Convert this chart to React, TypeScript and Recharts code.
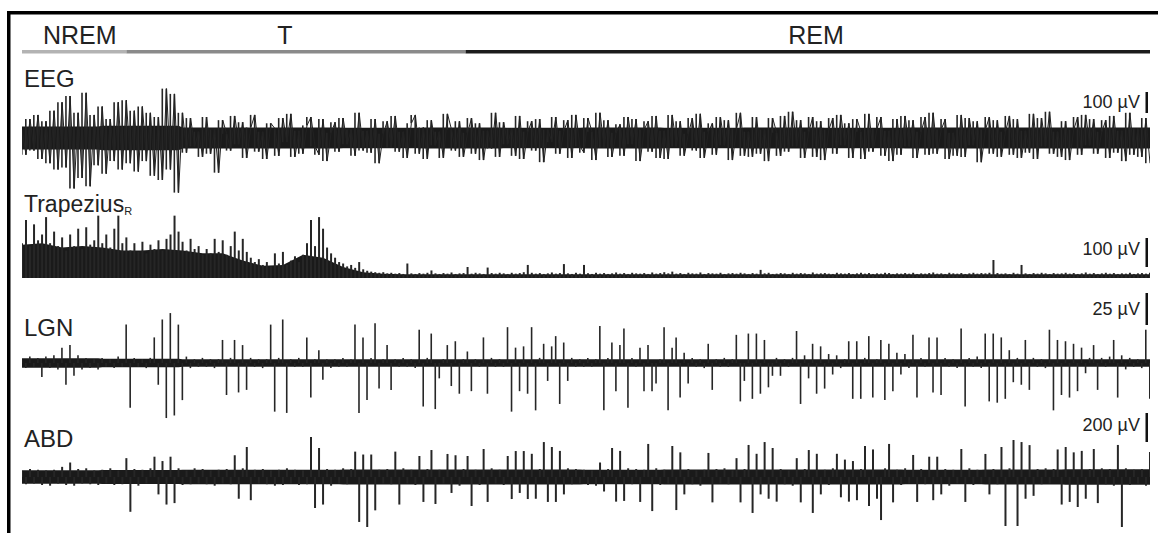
import { ComposedChart, Area, Bar, Line, BarChart, XAxis, YAxis } from 'recharts';

// sleep stage bar (lengths in samples, same units as the traces)
const stageNames = ['NREM', 'T', 'REM'];
const stageLengths = [26, 84.5, 170.5];
const stageColors = ['#b3b3b3', '#8a8a8a', '#1c1c1c'];

// EEG, µV
const eegUV = [
  40, -80, 90, -60, 110, -100, 80, -120, 130, -150, 170, -140, 200, -240, 120, -190, 215, -230, 110, -130,
  150, -170, 90, -110, 170, -150, 180, -120, 130, -160, 150, -110, 120, -180, 100, -200, 235, -150, 210, -260,
  120, -70, 95, -40, 30, -90, 100, -75, 40, -165, 85, 20, -60, 105, -30, 75, -95, 50, 110, -65,
  30, -100, 70, 45, -85, 95, -20, 115, -90, 35, -75, 60, 100, -40, -80, 90, -110, 25, 75, -65,
  95, -30, 40, -85, 120, -60, 35, -70, 90, -120, 20, 80, -45, 105, -65, 30, -95, 70, 110, -75,
  50, -100, 85, -35, 30, -95, 115, 40, -60, 80, -90, 25, 95, -75, 70, -105, 35, -50, 120, -90,
  75, -30, 45, -85, 105, -100, 30, 80, -60, 90, -115, 40, -20, 100, -75, 35, 85, -95, 110, -40,
  -70, 95, 30, -105, 120, -45, 85, -90, 25, 65, -85, 100, -30, 90, -110, 40, 80, -65, 105, -95,
  35, -100, 110, -40, 80, -85, 20, 95, -60, 115, -95, 30, 70, -80, 100, -35, 85, -105, 45, 120,
  -85, 30, -90, 100, -75, 40, -110, 95, 25, -85, 105, -65, 125, -40, 85, -95, 30, 100, -90, 80,
  -105, 40, 95, -75, 110, -35, 70, -95, 90, 30, -100, 115, -65, 45, 100, -85, 35, -110, 90, -80,
  105, -40, 85, -95, 30, 100, -80, 120, -75, 40, 90, -100, 25, -85, 110, -90, 95, -35, 80, -115,
  40, 100, -75, 85, -90, 30, 105, -80, 90, -95, 35, -70, 115, -100, 95, -40, 125, -75, 30, -90,
  80, -105, 40, 100, -80, 110, -35, 90, -75, 30, 85, -95, 105, -70, 35, -110, 120, -80, 45, -90,
  95, -120,
];
// half-width of the solid EEG band, one value per 20 samples
const eegCoreUV = [55, 58, 50, 50, 49, 50, 49, 50, 49, 50, 49, 50, 50, 50, 50];

// rectified trapezius EMG, µV
const trapeziusUV = [
  120, 200, 110, 185, 130, 150, 210, 120, 160, 110, 140, 95, 150, 110, 170, 100, 175, 115, 130, 215,
  120, 150, 105, 170, 215, 120, 140, 95, 120, 90, 125, 85, 115, 100, 130, 95, 135, 150, 215, 160,
  125, 95, 135, 100, 110, 80, 100, 85, 135, 90, 130, 80, 110, 160, 95, 135, 90, 70, 55, 65,
  45, 55, 40, 85, 50, 90, 45, 60, 75, 55, 80, 120, 200, 110, 210, 170, 105, 85, 70, 55,
  50, 40, 45, 35, 55, 30, 25, 22, 20, 18, 20, 16, 18, 15, 17, 14, 50, 16, 14, 17,
  15, 18, 26, 16, 14, 17, 15, 19, 14, 16, 17, 38, 15, 18, 16, 14, 36, 17, 15, 18,
  16, 14, 18, 15, 17, 20, 45, 18, 15, 17, 14, 16, 19, 15, 17, 48, 16, 14, 18, 15,
  45, 16, 14, 18, 15, 17, 14, 16, 19, 15, 17, 14, 18, 16, 15, 17, 14, 19, 15, 17,
  20, 16, 22, 15, 17, 14, 18, 16, 15, 19, 14, 17, 16, 15, 18, 14, 16, 17, 15, 18,
  16, 14, 17, 15, 28, 16, 18, 14, 15, 17, 16, 14, 18, 15, 17, 16, 14, 19, 15, 16,
  17, 15, 14, 18, 16, 15, 17, 14, 16, 18, 15, 17, 14, 16, 15, 18, 17, 14, 16, 15,
  17, 15, 18, 14, 16, 15, 17, 19, 15, 16, 14, 18, 16, 15, 17, 14, 16, 18, 15, 17,
  16, 18, 62, 17, 15, 16, 14, 18, 15, 45, 16, 14, 17, 15, 18, 16, 14, 17, 15, 16,
  18, 15, 17, 14, 16, 19, 15, 17, 14, 16, 18, 15, 17, 14, 16, 15, 18, 14, 16, 17,
  15, 18,
];
// solid floor of the rectified trace, one value every 5 samples
const trapFloorUV = [
  115, 120, 105, 110, 105, 95, 95, 100, 95, 85, 85, 60, 42, 45, 80, 70, 38, 20, 15, 13,
  13, 13, 13, 13, 13, 13, 13, 13, 13, 13, 13, 13, 13, 13, 13, 13, 13, 13, 13, 13,
  13, 13, 13, 13, 13, 13, 13, 13, 13, 13, 13, 13, 13, 13, 13, 13, 13,
];

// LGN field potential, µV
const lgnUV = [
  3, -4, 5, -3, 4, -11, 5, -4, 6, -5, 12, -17, 14, -10, 6, -5, 4, -4, 3, -5,
  4, -3, 3, -4, 5, -3, 30, -35, 4, -3, 3, -4, 4, 20, -17, 34, -43, 39, -41, 30,
  -29, 5, -4, 3, -3, 4, -3, 3, -4, 3, 18, -25, 4, 18, -23, 14, -21, 4, -3, 3,
  -4, 3, 30, -38, 4, 34, -39, 3, -3, 4, -3, 20, -27, 3, 10, -13, 3, -4, 3, -3,
  4, -3, 3, 30, -39, 20, -29, 4, 31, -20, 3, 14, -21, 3, -3, 4, -3, 3, -4, 26,
  -34, 4, 23, -36, -12, 3, 14, -18, 17, -24, 3, 9, -22, 3, -3, 20, -24, 4, -3, 3,
  -3, 28, -38, 12, -22, 13, -24, 28, -37, 4, 15, -14, 13, 21, -32, 16, -14, 4, -3, 3,
  -3, 4, -3, 3, 29, -37, 4, 16, -22, 14, 27, -35, 4, -3, 12, -22, 14, -22, -16, 3,
  28, -37, 12, 20, -27, 8, -16, 4, -3, 3, -4, 15, -21, 3, -3, 4, -3, 3, 22, -30,
  -14, 23, -28, 23, -24, 18, -19, -10, 4, -10, 3, -3, 4, 25, -32, 6, -12, 15, -24, 13,
  -20, 7, -9, 6, -4, 3, 17, -28, 17, -28, 4, 21, -27, 3, 18, -29, 15, -22, 8, -9,
  7, -4, 22, -27, 4, -3, 20, -23, 20, -25, 4, -3, 3, -4, 27, -34, 4, -3, 5, -4,
  23, -30, 23, -31, 20, -28, 10, -15, 4, -17, 18, -21, 4, -3, 3, -4, 26, -37, 18, -25,
  17, -27, 15, -22, 12, -8, 4, 14, -21, 4, -3, 5, 18, -27, 6, -5, 4, -3, 3, -4,
  26, -28,
];
const lgnCoreUV = [3.8, 3.3, 3, 3, 3, 3, 3, 3, 3, 3, 3, 3, 3, 3, 3];

// abdominal EMG, µV
const abdUV = [
  40, -50, 55, -45, 50, -55, 45, -60, 50, -45, 70, -55, 100, -60, 55, -45, 60, -50, 45, -55,
  50, -45, 60, -55, 45, -50, 130, -240, 55, -60, 50, -45, 60, 140, -120, 110, -190, 140, -180, 60,
  -55, 45, -50, 60, -45, 55, -50, 45, -60, 50, -45, 55, -50, 150, -150, 60, 207, -160, 50, -45,
  55, -50, 45, -60, 50, -55, 60, -45, 50, -55, 45, -50, 276, -214, 200, -190, 55, -60, 50, -45,
  60, -50, 55, 175, -310, 155, -345, 155, -230, 50, -45, 55, -50, 175, -190, 60, -45, 50, -55, 145,
  -172, 55, 186, -186, 50, -45, 159, -110, 150, -60, 55, 145, -200, 50, -55, 193, -172, 60, -45, 50,
  -55, 145, -152, 179, -110, 179, -152, 160, -150, 55, 241, -172, 207, -172, 180, -120, 60, -50, 55, -45,
  50, -55, 45, -60, 100, -100, 55, 200, -170, 180, -165, 60, -50, 55, -172, 50, 228, -235, 60, -55,
  50, -45, 214, -228, 170, -120, 55, -50, 45, -60, 50, 166, -175, 55, -45, 60, -50, 45, 130, -175,
  55, 221, -248, 160, -120, 241, -150, 200, -170, 55, -50, 45, -60, 130, -175, 55, 186, -248, 160, -120,
  50, -55, 60, 160, -140, 120, -170, 110, -160, 55, 214, -200, 190, -150, -297, 60, 228, -175, 50, -55,
  60, -45, 152, -172, 55, -50, 140, -160, 140, -120, 55, -60, 50, -45, 193, -172, 60, -55, 50, -45,
  159, -120, 55, -50, 207, -338, 60, 255, -338, 241, -150, 220, -130, 55, -50, 60, -45, 55, 190, -190,
  207, -172, 170, -207, 180, -150, 55, 193, -180, 60, -50, 55, -60, 221, -345, 60, -55, 50, -45, 55,
  -60, 172,
];
const abdCoreUV = [46, 48, 50, 50, 52, 52, 52, 50, 52, 52, 52, 50, 52, 54, 54];

const scaleLabels = ['100 µV', '100 µV', '25 µV', '200 µV'];
const scaleValues = [100, 100, 25, 200];

// pixels per µV for each trace
const EEG_PX = 0.21;
const TRAP_PX = 0.29;
const LGN_PX = 1.28;
const ABD_PX = 0.145;

const LEFT = 22;
const WIDTH = 1128;
const LAST = eegUV.length - 1;
const FONT = '"Liberation Sans", Arial, Helvetica, sans-serif';
const INK = '#1a1a1a';

type TraceProps = {
  values: number[];
  core: number[];
  center: number;
  height: number;
  px: number;
  stick?: number;
  segments?: boolean; // sticks span between neighbouring samples, and the raw trace is drawn too
};

const Trace = ({ values, core, center, height, px, stick = 1.6, segments = false }: TraceProps) => {
  const half = height / 2 / px;
  const rows = values.map((v, i) => {
    const c = core[Math.floor(i / 20)];
    const next = values[Math.min(i + 1, values.length - 1)];
    return { i, v, band: [-c, c], seg: [Math.min(v, next), Math.max(v, next)] };
  });
  return (
    <div style={{ position: 'absolute', left: LEFT, top: center - height / 2 }}>
      <ComposedChart width={WIDTH} height={height} data={rows} margin={{ top: 0, right: 0, bottom: 0, left: 0 }}>
        <XAxis dataKey="i" type="number" domain={[0, LAST]} hide />
        <YAxis type="number" domain={[-half, half]} allowDataOverflow hide />
        <Area type="linear" dataKey="band" stroke="none" fill={INK} fillOpacity={1} isAnimationActive={false} />
        <Bar dataKey={segments ? 'seg' : 'v'} barSize={stick} fill="#262626" isAnimationActive={false} />
        {segments && (
          <Line type="linear" dataKey="v" stroke="#222" strokeWidth={1} dot={false} isAnimationActive={false} />
        )}
      </ComposedChart>
    </div>
  );
};

export default function App() {
  const stageRow: Record<string, number | string> = { name: 'stage' };
  stageNames.forEach((n, k) => { stageRow[n] = stageLengths[k]; });

  const trapHeight = 80;
  const trapBase = 278;
  const trapRows = trapeziusUV.map((v, i) => ({
    i,
    v,
    floor: i % 5 === 0 ? trapFloorUV[i / 5] : i === LAST ? trapFloorUV[trapFloorUV.length - 1] : null,
  }));

  // scale bar placement: bottom y and label baseline y
  const scaleBottoms = [113, 267, 325, 442];
  const scaleBaselines = [108, 255, 315, 431];
  const scalePx = [EEG_PX, TRAP_PX, LGN_PX, ABD_PX];

  return (
    <div style={{ position: 'absolute', left: 0, top: 0, width: 1158, height: 533, background: '#fff', overflow: 'hidden' }}>
      {/* stage bar */}
      <div style={{ position: 'absolute', left: LEFT, top: 50 }}>
        <BarChart width={WIDTH} height={4} data={[stageRow]} layout="vertical" barCategoryGap={0} margin={{ top: 0, right: 0, bottom: 0, left: 0 }}>
          <XAxis type="number" domain={[0, LAST]} hide />
          <YAxis type="category" dataKey="name" hide />
          {stageNames.map((n, k) => (
            <Bar key={n} dataKey={n} stackId="s" fill={stageColors[k]} barSize={4} isAnimationActive={false} />
          ))}
        </BarChart>
      </div>

      <Trace values={eegUV} core={eegCoreUV} center={138} height={120} px={EEG_PX} stick={1.6} segments />

      <div style={{ position: 'absolute', left: LEFT, top: trapBase - trapHeight }}>
        <ComposedChart width={WIDTH} height={trapHeight} data={trapRows} margin={{ top: 0, right: 0, bottom: 0, left: 0 }}>
          <XAxis dataKey="i" type="number" domain={[0, LAST]} hide />
          <YAxis type="number" domain={[0, trapHeight / TRAP_PX]} allowDataOverflow hide />
          <Area type="linear" dataKey="floor" connectNulls stroke="none" fill={INK} fillOpacity={1} isAnimationActive={false} />
          <Bar dataKey="v" barSize={2} fill="#262626" isAnimationActive={false} />
        </ComposedChart>
      </div>

      <Trace values={lgnUV} core={lgnCoreUV} center={363} height={130} px={LGN_PX} />
      <Trace values={abdUV} core={abdCoreUV} center={477} height={130} px={ABD_PX} stick={2} />

      <svg width={1158} height={533} style={{ position: 'absolute', left: 0, top: 0, pointerEvents: 'none' }} fontFamily={FONT} fill="#222">
        <line x1={7} y1={12.75} x2={1158} y2={12.75} stroke="#000" strokeWidth={3.5} />
        <line x1={8.75} y1={11} x2={8.75} y2={533} stroke="#000" strokeWidth={3.5} />

        <text x={43} y={44} fontSize={25}>NREM</text>
        <text x={285} y={44} fontSize={25} textAnchor="middle">T</text>
        <text x={816} y={44} fontSize={25} textAnchor="middle">REM</text>

        <text x={24} y={87} fontSize={24}>EEG</text>
        <text x={24} y={212} fontSize={23}>Trapezius<tspan fontSize={11} dy={3}>R</tspan></text>
        <text x={24} y={336} fontSize={24}>LGN</text>
        <text x={24} y={447} fontSize={24}>ABD</text>

        {scaleLabels.map((lab, k) => (
          <g key={k}>
            <text x={1140} y={scaleBaselines[k]} fontSize={18} textAnchor="end">{lab}</text>
            <rect x={1145.5} y={scaleBottoms[k] - scaleValues[k] * scalePx[k]} width={2.5} height={scaleValues[k] * scalePx[k]} fill="#111" />
          </g>
        ))}
      </svg>
    </div>
  );
}
